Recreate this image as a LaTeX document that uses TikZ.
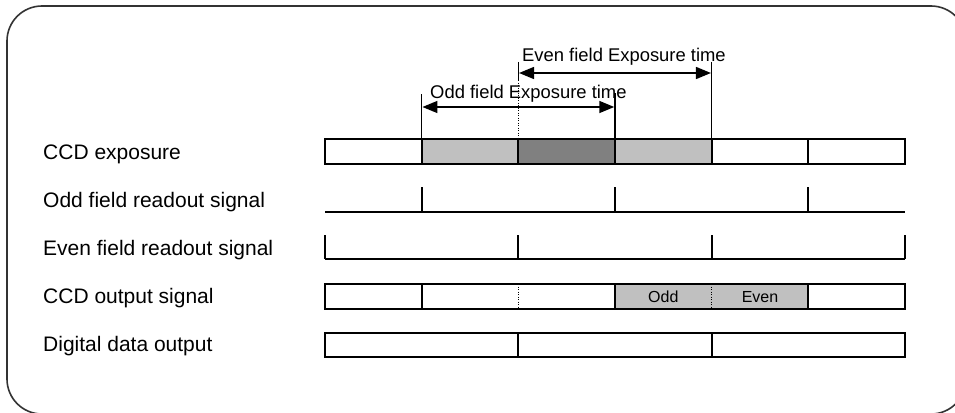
\documentclass[tikz,border=0pt]{standalone}
\usepackage{fontspec}
\setmainfont{Liberation Sans}
\usetikzlibrary{arrows.meta}
\definecolor{lightg}{HTML}{C0C0C0}
\definecolor{darkg}{HTML}{808080}
\definecolor{framec}{HTML}{333333}
\begin{document}
\begin{tikzpicture}[x=1pt,y=-1pt,
  lab/.style={anchor=base west, inner sep=0pt, font=\fontsize{21}{21}\selectfont},
  dimtext/.style={anchor=base west, inner sep=0pt, font=\fontsize{18.4}{18.4}\selectfont},
  intext/.style={anchor=center, inner sep=0pt, font=\fontsize{16}{16}\selectfont},
  seg/.style={draw=black, line width=2pt},
  thin/.style={draw=black, line width=1.5pt},
  dotln/.style={draw=black, line width=1pt, dash pattern=on 1pt off 1.5pt},
  dimarrow/.style={draw=black, line width=1.5pt, {Triangle[length=15pt,width=12pt]}-{Triangle[length=15pt,width=12pt]}, shorten <=0.75pt, shorten >=0.75pt}]
\useasboundingbox (0,0) rectangle (955,412);
\draw[line width=1.6pt, draw=framec, rounded corners=35pt] (7,6) rectangle (966,414);

% row labels
\node[lab] (l1) at (43,159) {CCD exposure};
\node[lab] (l2) at (43,207) {Odd field readout signal};
\node[lab] (l3) at (43,255) {Even field readout signal};
\node[lab] (l4) at (43,303) {CCD output signal};
\node[lab] (l5) at (43,351) {Digital data output};

% CCD exposure row
\fill[lightg] (421.7,139) rectangle (518.3,164);
\fill[darkg] (518.3,139) rectangle (615,164);
\fill[lightg] (615,139) rectangle (711.7,164);
\draw[seg] (325,139) rectangle (905,164);
\foreach \x in {421.7,518.3,615,711.7,808.3} \draw[seg] (\x,139) -- (\x,164);

% Odd readout
\draw[seg] (325,212) -- (905,212);
\foreach \x in {421.7,615,808.3} \draw[seg] (\x,187) -- (\x,212);

% Even readout
\draw[seg] (325,259) -- (905,259);
\foreach \x in {325,518.3,711.7,905} \draw[seg] (\x,235) -- (\x,259);

% CCD output
\fill[lightg] (615,284) rectangle (808.3,309);
\draw[seg] (325,284) rectangle (905,309);
\foreach \x in {421.7,615,808.3} \draw[seg] (\x,284) -- (\x,309);
\foreach \x in {518.3,711.7} \draw[dotln] (\x,284) -- (\x,309);
\node[intext] (odd) at (663.3,297) {Odd};
\node[intext] (even) at (760,297) {Even};

% Digital data output
\draw[seg] (325,333) rectangle (905,357);
\foreach \x in {518.3,711.7} \draw[seg] (\x,333) -- (\x,357);

% dimension ticks
\draw[thin] (421.7,94) -- (421.7,139);
\draw[thin] (615,93) -- (615,139);
\draw[thin] (518.3,62) -- (518.3,80);
\draw[dotln] (518.3,80) -- (518.3,139);
\draw[thin] (711.7,62) -- (711.7,139);

% dimension arrows
\coordinate (ea) at (518.3,73);
\coordinate (eb) at (711.7,73);
\draw[dimarrow] (ea) -- (eb);
\coordinate (oa) at (421.7,107);
\coordinate (ob) at (615,107);
\draw[dimarrow] (oa) -- (ob);

\node[dimtext] (et) at (522,61) {Even field Exposure time};
\node[dimtext] (ot) at (430,98) {Odd field Exposure time};
\end{tikzpicture}
\end{document}
